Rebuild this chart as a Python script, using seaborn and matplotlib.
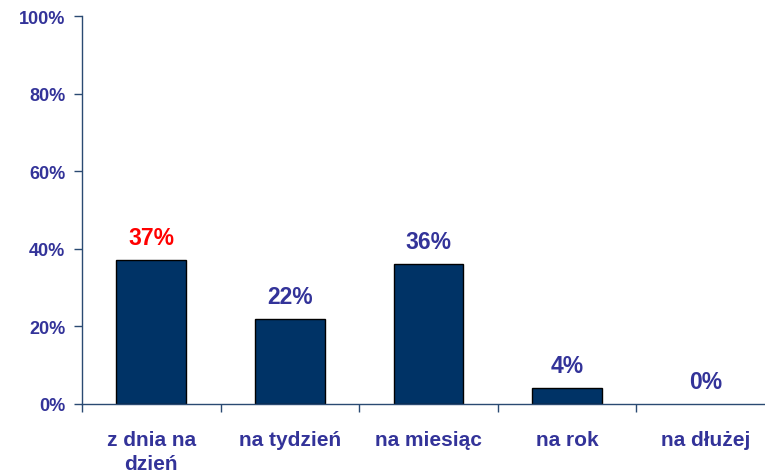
import matplotlib
matplotlib.use("Agg")
import matplotlib.pyplot as plt
import seaborn as sns
import pandas as pd
from matplotlib.ticker import FuncFormatter, FixedLocator

# Data
categories = ["z dnia na\ndzień", "na tydzień", "na miesiąc", "na rok", "na dłużej"]
values = [37, 22, 36, 4, 0]
label_colors = ["#FF0000", "#333399", "#333399", "#333399", "#333399"]

df = pd.DataFrame({"okres": categories, "udzial": values})

sns.set_style("white")
plt.rcParams["font.family"] = ["Liberation Sans", "DejaVu Sans"]
plt.rcParams["font.weight"] = "bold"

text_col = "#333399"
axis_col = "#2a4a72"

fig = plt.figure(figsize=(7.65, 4.77), dpi=100)
ax = fig.add_axes([82 / 765, 72 / 477, 693 / 765, 388 / 477])

sns.barplot(data=df, x="okres", y="udzial", color="#003366", width=0.505,
            edgecolor="black", linewidth=1.0, saturation=1, ax=ax)

# no outline for an empty bar
for p in ax.patches:
    if p.get_height() == 0:
        p.set_linewidth(0)

ax.set_ylim(0, 100)
ax.set_xlim(-0.5, len(categories) - 0.5)
ax.set_yticks([0, 20, 40, 60, 80, 100])
ax.yaxis.set_major_formatter(FuncFormatter(lambda v, p: f"{v:.0f}%"))
ax.set_xlabel("")
ax.set_ylabel("")

# category labels centred, tick marks at the category boundaries
ax.set_xticks(range(len(categories)))
ax.set_xticklabels(categories, fontsize=15, fontweight="bold", color=text_col,
                   linespacing=1.3, va="top")
ax.tick_params(axis="x", which="major", bottom=True, length=0, pad=19)
ax.xaxis.set_minor_locator(FixedLocator([i + 0.5 for i in range(-1, len(categories))]))
ax.tick_params(axis="x", which="minor", bottom=True, length=6, width=1,
               color=axis_col, direction="out")
ax.tick_params(axis="y", left=True, length=6, width=1, color=axis_col, direction="out",
               labelsize=13, labelcolor=text_col, pad=6)
for t in ax.get_yticklabels():
    t.set_fontweight("bold")

for s in ["top", "right"]:
    ax.spines[s].set_visible(False)
for s in ["left", "bottom"]:
    ax.spines[s].set_color(axis_col)
    ax.spines[s].set_linewidth(1.0)

# value labels above bars
for i, (v, c) in enumerate(zip(values, label_colors)):
    ax.annotate(f"{v}%", (i, v), xytext=(0, 8), textcoords="offset points",
                ha="center", va="bottom", fontsize=16.5, fontweight="bold", color=c)

fig.savefig("out.png", dpi=100)
